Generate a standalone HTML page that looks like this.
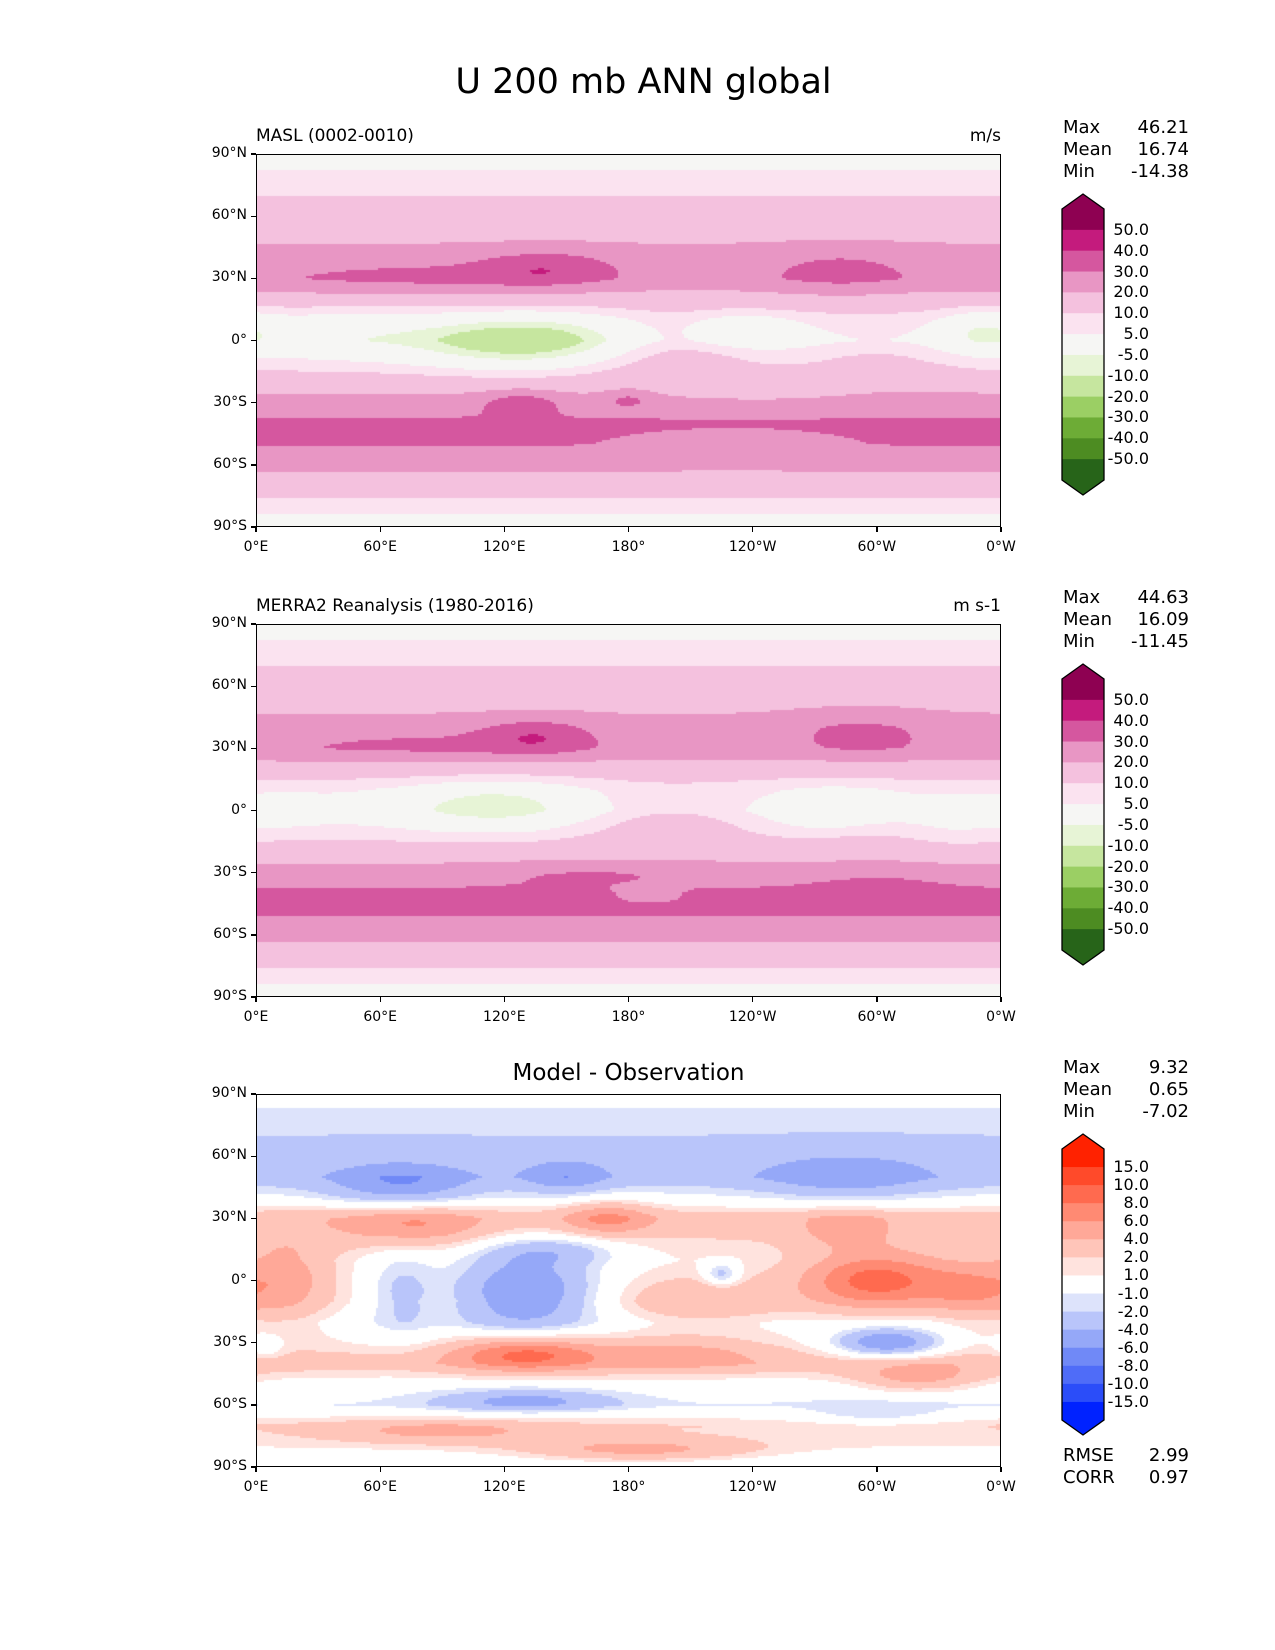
<!DOCTYPE html>
<html><head><meta charset="utf-8">
<style>
body{margin:0;background:#fff;}
#page{position:relative;width:1275px;height:1650px;font-family:"DejaVu Sans","Liberation Sans",sans-serif;color:#000;overflow:hidden;}
.t{position:absolute;white-space:nowrap;}
canvas{position:absolute;}
.frame{position:absolute;border:1.3px solid #000;box-sizing:border-box;}
</style></head>
<body><div id="page">
<div class="t" style="left:0;width:1275px;text-align:center;top:62px;font-size:35px;padding-left:6px;">U 200 mb ANN global</div>
</div>
<script>
// ---- data ----
const lats = [-90,-80,-70,-60,-50,-40,-30,-20,-10,0,10,20,30,40,50,60,70,80,90];
const modelProfile = [2,7,14,23,31,32,25,14,7,2,7,15,26,24,18,14,10,6,2];
const obsProfile   = [2,7,14,23,31,32,24,14,7,2,6,14,26,24,18,14,10,6,2];
const diffProfile  = [-1,1,2,-1,0,3,1,0,1,1,1,2,3,-0.5,-3,-2.5,-2,-1.5,0];
// blobs: [lon, lat, amplitude, lonWidth, latWidth]
const modelBlobs = [[130,0,-20,38,9],[80,30,7,55,6],[140,35,12,22,6],[282,33,8,25,8],[235,5,-9,18,6],[350,5,-9,14,7],[40,5,-6,30,8],[200,-5,9,30,10],[128,-30,12,12,4],[180,-28,9,8,3],[240,-25,-4,40,6],[230,-50,-4,40,6],[300,-10,5,25,10]];
const obsBlobs = [[80,31,6,55,6],[115,3,-12,30,8],[135,36,13,18,6],[292,38,8,25,8],[280,0,-7,20,8],[15,0,-6,10,4],[200,-5,8,30,10],[160,-30,6,40,4],[300,-35,4,25,6],[190,-40,-5,12,3],[330,-10,-3,20,8],[300,-10,4,25,10]];
const diffBlobs = [[70,45,-4,25,8],[150,50,-3,15,6],[285,50,-3,30,8],[75,27,4,25,7],[170,30,4,15,6],[285,25,3,15,6],[15,0,4,15,15],[70,-5,-3,12,15],[130,-5,-7,25,14],[145,15,-3,25,5],[300,0,8,25,10],[345,-5,4,15,10],[215,-10,3,30,8],[225,3,-4,6,4],[130,-35,7,25,6],[205,-35,3,30,6],[305,-30,-7,18,5],[320,-47,4,22,5],[130,-58,-4,30,4],[5,-32,-2,6,4],[90,-73,3,40,4],[185,-82,4,40,4],[300,-65,-2,25,4]];
const piygLevels = [-50,-40,-30,-20,-10,-5,5,10,20,30,40,50];
const piygColors = ["#276419","#4d8c22","#6dac36","#9bcf64","#c6e69f","#e7f4d6","#f6f6f4","#fbe3f0","#f4c1de","#e896c4","#d5579f","#c41b7d","#8e0152"];
const piygLabels = ["50.0","40.0","30.0","20.0","10.0","5.0","-5.0","-10.0","-20.0","-30.0","-40.0","-50.0"];
const bwrLevels = [-15,-10,-8,-6,-4,-2,-1,1,2,4,6,8,10,15];
const bwrColors = ["#0022ff","#2b4df9","#4f6cf8","#7089f7","#95a8f8","#b9c5fa","#dde3fb","#ffffff","#ffe3de","#ffc5b9","#ffa898","#ff8a73","#ff6a4f","#ff4a2a","#ff2200"];
const bwrLabels = ["15.0","10.0","8.0","6.0","4.0","2.0","1.0","-1.0","-2.0","-4.0","-6.0","-8.0","-10.0","-15.0"];
const latTicks = ["90°N","60°N","30°N","0°","30°S","60°S","90°S"];
const lonTicks = ["0°E","60°E","120°E","180°","120°W","60°W","0°W"];

const page = document.getElementById('page');
const MX=256, MW=745, MH=373;
function profileAt(p,lat){
  let i=Math.min(17,Math.floor((lat+90)/10)); let f=(lat-lats[i])/10;
  return p[i]*(1-f)+p[i+1]*f;
}
function field(p,blobs,lon,lat){
  let v=profileAt(p,lat);
  for(const b of blobs){
    let dl=Math.abs(lon-b[0]); if(dl>180) dl=360-dl;
    v+=b[2]*Math.exp(-(dl*dl)/(2*b[3]*b[3])-((lat-b[1])*(lat-b[1]))/(2*b[4]*b[4]));
  }
  return v;
}
function colorFor(v,levels,colors){
  let i=0; while(i<levels.length && v>levels[i]) i++; return colors[i];
}
function txt(name,s,x,y,size,align,extra){
  const d=document.createElement('div'); d.className='t';
  
  
  d.textContent=s; d.style.fontSize=size+'px'; d.style.top=y+'px';
  if(align==='right'){d.style.right=(1275-x)+'px';}
  else if(align==='center'){d.style.left=(x-200)+'px';d.style.width='400px';d.style.textAlign='center';}
  else d.style.left=x+'px';
  if(extra) Object.assign(d.style,extra);
  page.appendChild(d); return d;
}
function panel(id,T,prof,blobs,levels,colors,labels,leftTitle,rightTitle,centerTitle,stats){
  const cv=document.createElement('canvas');
  
  
  cv.width=MW; cv.height=MH; cv.style.left=MX+'px'; cv.style.top=T+'px';
  page.appendChild(cv);
  const ctx=cv.getContext('2d');
  const step=2;
  for(let py=0;py<MH;py+=step){
    const lat=90-(py+step/2)/MH*180;
    for(let px=0;px<MW;px+=step){
      const lon=(px+step/2)/MW*360;
      ctx.fillStyle=colorFor(field(prof,blobs,lon,lat),levels,colors);
      ctx.fillRect(px,py,step,step);
    }
  }
  const fr=document.createElement('div'); fr.className='frame';
  
  
  Object.assign(fr.style,{left:MX+'px',top:T+'px',width:MW+'px',height:MH+'px'});
  page.appendChild(fr);
  latTicks.forEach((s,i)=>{
    const y=T+i*MH/6;
    const tk=document.createElement('div');
    
    
    Object.assign(tk.style,{position:'absolute',left:(MX-5)+'px',top:(y-0.6)+'px',width:'5px',height:'1.3px',background:'#000'});
    page.appendChild(tk);
    txt(id+'-lat-label',s,MX-9,y-9,14,'right');
  });
  lonTicks.forEach((s,i)=>{
    const x=MX+i*MW/6;
    const tk=document.createElement('div');
    
    
    Object.assign(tk.style,{position:'absolute',left:(x-0.6)+'px',top:(T+MH)+'px',width:'1.3px',height:'5px',background:'#000'});
    page.appendChild(tk);
    txt(id+'-lon-label',s,x,T+MH+12,14,'center');
  });
  if(leftTitle) txt(id+'-title',leftTitle,MX,T-28,17);
  if(rightTitle) txt(id+'-units',rightTitle,MX+MW,T-28,17,'right');
  if(centerTitle) txt(id+'-title',centerTitle,MX+MW/2,T-34,23,'center');
  const sn=['Max','Mean','Min'];
  stats.forEach((v,i)=>{
    txt(id+'-stat-name',sn[i],1063,T-37+i*22,18);
    txt(id+'-stat-value',v,1189,T-37+i*22,18,'right');
  });
  const n=colors.length, cx=1062, cw=42, top=T+55, bot=T+326, tip=15;
  const seg=(bot-top)/n;
  let svg='<svg xmlns="http://www.w3.org/2000/svg" width="60" height="'+(bot-top+2*tip+4)+'" style="position:absolute;left:'+(cx-2)+'px;top:'+(top-tip-2)+'px">';
  const ox=2, oy=tip+2;
  svg+='<polygon points="'+ox+','+oy+' '+(ox+cw/2)+','+(oy-tip)+' '+(ox+cw)+','+oy+'" fill="'+colors[n-1]+'"/>';
  for(let k=0;k<n;k++){
    svg+='<rect x="'+ox+'" y="'+(oy+k*seg)+'" width="'+cw+'" height="'+(seg+0.5)+'" fill="'+colors[n-1-k]+'"/>';
  }
  svg+='<polygon points="'+ox+','+(oy+bot-top)+' '+(ox+cw/2)+','+(oy+bot-top+tip)+' '+(ox+cw)+','+(oy+bot-top)+'" fill="'+colors[0]+'"/>';
  svg+='<polygon points="'+ox+','+oy+' '+(ox+cw/2)+','+(oy-tip)+' '+(ox+cw)+','+oy+' '+(ox+cw)+','+(oy+bot-top)+' '+(ox+cw/2)+','+(oy+bot-top+tip)+' '+ox+','+(oy+bot-top)+'" fill="none" stroke="#000" stroke-width="1.3"/></svg>';
  const wrap=document.createElement('div');
  
  
  wrap.innerHTML=svg; page.appendChild(wrap);
  labels.forEach((s,k)=>{
    txt(id+'-colorbar-label',s,cx+cw+45,top+(k+1)*seg-10,16,'right',{});
  });
}
panel('model',154,modelProfile,modelBlobs,piygLevels,piygColors,piygLabels,'MASL (0002-0010)','m/s',null,['46.21','16.74','-14.38']);
panel('obs',624,obsProfile,obsBlobs,piygLevels,piygColors,piygLabels,'MERRA2 Reanalysis (1980-2016)','m s-1',null,['44.63','16.09','-11.45']);
panel('diff',1094,diffProfile,diffBlobs,bwrLevels,bwrColors,bwrLabels,null,null,'Model - Observation',['9.32','0.65','-7.02']);
txt('rmse-label','RMSE',1063,1445,18); txt('rmse-value','2.99',1189,1445,18,'right');
txt('corr-label','CORR',1063,1467,18); txt('corr-value','0.97',1189,1467,18,'right');
</script>
</body></html>
